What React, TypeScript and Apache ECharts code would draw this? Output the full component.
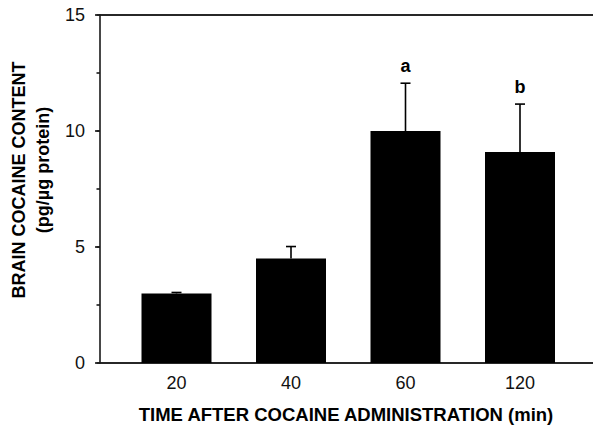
import React, { useEffect, useRef } from "react";
import * as echarts from "echarts";

const categories = ["20", "40", "60", "120"];
const means = [3.0, 4.5, 10.0, 9.1];
const errors = [0.04, 0.52, 2.06, 2.06];
const sigLabels = ["", "", "a", "b"];
const yTicks = { min: 0, max: 15, interval: 5, minorInterval: 2.5 };

const FONT = "Liberation Sans, Arial, Helvetica, sans-serif";
const AXIS_COLOR = "#1a1a1a";

export default function App() {
  const ref = useRef<HTMLDivElement>(null);
  useEffect(() => {
    if (!ref.current) return;
    const chart = echarts.init(ref.current, undefined, { renderer: "svg" });
    const lineStyle = { color: AXIS_COLOR, width: 1.6 };
    const titleStyle = { fill: "#000", fontSize: 18, fontWeight: "bold", fontFamily: FONT, align: "center", verticalAlign: "middle" };
    const bounds = { outerBoundsMode: "none", outerBounds: { left: 0, right: 0, top: 0, bottom: 0 }, containLabel: false };
    const frameGrid = { left: 100, right: 0, top: 15, bottom: 62, ...bounds };
    const option: any = {
      animation: false,
      backgroundColor: "#ffffff",
      textStyle: { fontFamily: FONT },
      grid: [
        frameGrid,
        { left: 119.25, width: 458, top: 15, bottom: 62, ...bounds },
        { ...frameGrid },
      ],
      xAxis: [
        {
          gridIndex: 0, type: "value", min: 0, max: 1, position: "bottom",
          axisLine: { show: true, lineStyle }, axisTick: { show: false },
          axisLabel: { show: false }, splitLine: { show: false },
        },
        {
          gridIndex: 0, type: "value", min: 0, max: 1, position: "top",
          axisLine: { show: true, lineStyle }, axisTick: { show: false },
          axisLabel: { show: false }, splitLine: { show: false },
        },
        {
          gridIndex: 1, type: "category", data: categories,
          axisLine: { show: false }, axisTick: { show: false },
          axisLabel: { margin: 11, fontSize: 18, color: "#111", fontFamily: FONT },
        },
        { gridIndex: 2, type: "value", min: 0, max: 1, show: false },
      ],
      yAxis: [
        {
          gridIndex: 0, type: "value", min: yTicks.min, max: yTicks.max, interval: yTicks.interval,
          axisLine: { show: true, lineStyle },
          axisTick: { show: true, length: 5, lineStyle },
          axisLabel: { margin: 15, fontSize: 18, color: "#111", fontFamily: FONT },
          splitLine: { show: false },
        },
        { gridIndex: 1, type: "value", min: yTicks.min, max: yTicks.max, show: false },
        {
          gridIndex: 2, type: "value", position: "left", min: yTicks.min, max: yTicks.max, interval: yTicks.minorInterval,
          axisLine: { show: false }, axisTick: { show: true, length: 3.5, lineStyle },
          axisLabel: { show: false }, splitLine: { show: false },
        },
      ],
      series: [
        {
          type: "bar", xAxisIndex: 2, yAxisIndex: 1, data: means, barWidth: 70,
          itemStyle: { color: "#000" },
        },
        {
          type: "custom", xAxisIndex: 2, yAxisIndex: 1,
          data: means.map((m, i) => [i, m, errors[i]]),
          encode: { x: 0, y: 1 },
          renderItem: (params: any, api: any) => {
            const i = api.value(0);
            const m = api.value(1);
            const e = api.value(2);
            const base = api.coord([i, m]);
            const top = api.coord([i, m + e]);
            const label = sigLabels[params.dataIndex];
            const children: any[] = [
              { type: "line", shape: { x1: base[0], y1: base[1], x2: top[0], y2: top[1] }, style: { stroke: "#000", lineWidth: 1.6 } },
              { type: "line", shape: { x1: top[0] - 5, y1: top[1], x2: top[0] + 5, y2: top[1] }, style: { stroke: "#000", lineWidth: 1.6 } },
            ];
            if (label) {
              children.push({
                type: "text", x: top[0], y: top[1] - 17,
                style: { text: label, ...titleStyle },
              });
            }
            return { type: "group", children };
          },
          z: 3,
        },
      ],
      graphic: [
        { type: "line", shape: { x1: 100, y1: 15, x2: 600, y2: 15 }, style: { stroke: AXIS_COLOR, lineWidth: 1.6 } },
        { type: "line", shape: { x1: 100, y1: 363, x2: 600, y2: 363 }, style: { stroke: AXIS_COLOR, lineWidth: 1.6 } },
        { type: "text", x: 19, y: 180, rotation: Math.PI / 2, style: { text: "BRAIN COCAINE CONTENT", ...titleStyle } },
        { type: "text", x: 43, y: 170, rotation: Math.PI / 2, style: { text: "(pg/µg protein)", ...titleStyle } },
        { type: "text", x: 346, y: 414, style: { text: "TIME AFTER COCAINE ADMINISTRATION (min)", ...titleStyle, fontSize: 18.5 } },
      ],
    };
    chart.setOption(option);
    return () => chart.dispose();
  }, []);
  return (
    <div
      ref={ref}
      style={{ position: "fixed", left: 0, top: 0, width: 593, height: 425, background: "#fff" }}
    />
  );
}
